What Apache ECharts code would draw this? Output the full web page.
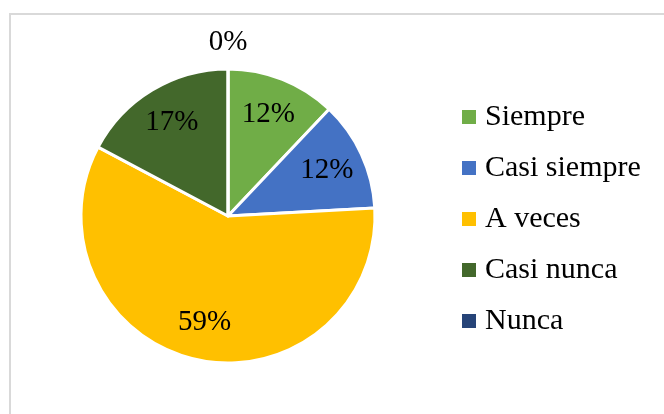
<!DOCTYPE html>
<html>
<head>
<meta charset="utf-8">
<script src="https://cdn.jsdelivr.net/npm/echarts@6/dist/echarts.min.js"></script>
<style>
  html, body { margin: 0; padding: 0; background: #fff; }
  #chart { width: 664px; height: 414px; }
</style>
</head>
<body>
<div id="chart"></div>
<script>
// respuestas por categoria
const categories = ['Siempre', 'Casi siempre', 'A veces', 'Casi nunca', 'Nunca'];
const counts = [7, 7, 34, 10, 0];
const colors = ['#70AD47', '#4472C4', '#FFC000', '#43682B', '#264478'];

const FONT = '"Liberation Serif", "Times New Roman", serif';

const pieData = categories.map(function (name, i) {
    return { name: name, value: counts[i], itemStyle: { color: colors[i] } };
});

// series invisibles solo para ubicar las etiquetas
function labelSeries(radius, showZero) {
    return {
        type: 'pie',
        center: [228, 216],
        radius: [0, radius],
        startAngle: 90,
        silent: true,
        percentPrecision: 0,
        itemStyle: { color: 'rgba(0,0,0,0)', borderWidth: 0 },
        emphasis: { disabled: true },
        labelLine: { show: false },
        label: { show: false },
        data: categories.map(function (name, i) {
            const isZero = counts[i] === 0;
            return {
                name: name,
                value: counts[i],
                label: {
                    show: showZero ? isZero : !isZero,
                    position: 'inside',
                    formatter: '{d}%',
                    color: '#000',
                    fontFamily: FONT,
                    fontSize: 29
                }
            };
        })
    };
}

const chart = echarts.init(document.getElementById('chart'));
chart.setOption({
    backgroundColor: '#fff',
    animation: false,
    graphic: [{
        type: 'rect',
        shape: { x: 10, y: 14, width: 700, height: 500 },
        style: { fill: 'none', stroke: '#d9d9d9', lineWidth: 2 },
        silent: true
    }],
    legend: {
        orient: 'vertical',
        left: 455,
        top: 97,
        icon: 'rect',
        itemWidth: 16,
        itemHeight: 16,
        itemGap: 21,
        data: categories,
        textStyle: {
            fontFamily: FONT,
            fontSize: 30,
            lineHeight: 30,
            color: '#000',
            padding: [0, 0, 0, 3]
        }
    },
    series: [
        {
            type: 'pie',
            center: [228, 216],
            radius: [0, 147],
            startAngle: 90,
            percentPrecision: 0,
            itemStyle: { borderColor: '#fff', borderWidth: 3 },
            emphasis: { disabled: true },
            label: { show: false },
            labelLine: { show: false },
            data: pieData
        },
        labelSeries(212, false),
        labelSeries(342, true)
    ]
});
</script>
</body>
</html>
